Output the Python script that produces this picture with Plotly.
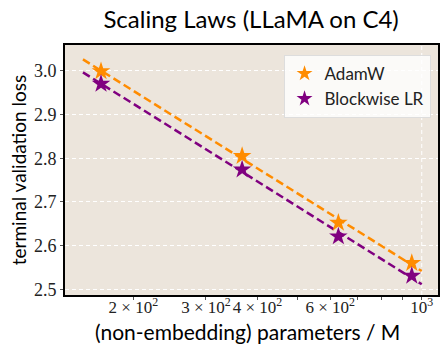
import numpy as np
import plotly.graph_objects as go

# Data
params_m = [167, 367, 628, 946]
adamw_loss = [2.999, 2.805, 2.652, 2.560]
blockwise_loss = [2.970, 2.774, 2.621, 2.531]
fit_x_range = [151, 1000]
series_names = ["AdamW", "Blockwise LR"]
series_colors = ["#FF8C00", "#800080"]

x_tickvals = [200, 300, 400, 500, 600, 700, 800, 900, 1000]
x_ticktext = ["2 × 10<sup>2</sup>", "3 × 10<sup>2</sup>", "4 × 10<sup>2</sup>", "",
              "6 × 10<sup>2</sup>", "", "", "", "10<sup>3</sup>"]
y_tickvals = [2.5, 2.6, 2.7, 2.8, 2.9, 3.0]
x_major_grid = [1000]
x_title = "(non-embedding) parameters / M"

fig = go.Figure()

fit_x = np.logspace(np.log10(fit_x_range[0]), np.log10(fit_x_range[1]), 50)
for name, color, loss in zip(series_names, series_colors, [adamw_loss, blockwise_loss]):
    coef = np.polyfit(np.log10(params_m), loss, 1)
    fig.add_trace(go.Scatter(
        x=fit_x, y=np.polyval(coef, np.log10(fit_x)), mode="lines",
        line=dict(color=color, width=2.5, dash="8px,4px"),
        showlegend=False, hoverinfo="skip"))
for name, color, loss in zip(series_names, series_colors, [adamw_loss, blockwise_loss]):
    fig.add_trace(go.Scatter(
        x=params_m, y=loss, mode="markers", name=name,
        marker=dict(symbol="star", size=14, color=color, line=dict(width=0))))

for xv in x_major_grid:
    fig.add_shape(type="line", xref="x", yref="paper", x0=xv, x1=xv, y0=0, y1=1,
                  line=dict(color="white", width=1, dash="4px,3px"), layer="below")

serif = "Liberation Serif"
sans = "Lato"

fig.add_annotation(text=x_title, xref="paper", yref="paper", x=0.49, y=-0.145,
                   xanchor="center", yanchor="middle", showarrow=False,
                   font=dict(family=sans, size=21, color="black"))

fig.update_layout(
    width=448, height=357,
    margin=dict(l=65, r=10, t=45, b=62),
    paper_bgcolor="white",
    plot_bgcolor="#ECE5DC",
    title=dict(text="Scaling Laws (LLaMA on C4)", x=0.5605, xanchor="center",
               y=0.945, yanchor="middle", font=dict(family=sans, size=24, color="black")),
    legend=dict(x=0.98, y=0.96, xanchor="right", yanchor="top",
                bgcolor="rgba(255,255,255,0.8)", bordercolor="#DDDDDD", borderwidth=1,
                font=dict(family=sans, size=17, color="#222222"),
                itemsizing="constant"),
    showlegend=True,
)

fig.update_xaxes(
    type="log", range=[np.log10(136.6), np.log10(1095)],
    tickvals=x_tickvals, ticktext=x_ticktext, tickangle=0, automargin=False,
    tickfont=dict(family=serif, size=17, color="#222222"),
    ticks="outside", ticklen=3, tickcolor="#555555", ticklabelstandoff=-7,
    showgrid=False, zeroline=False,
    showline=True, linecolor="black", linewidth=2, mirror=True,
)
fig.update_yaxes(
    range=[2.487, 3.059], automargin=False,
    tickvals=y_tickvals, tickformat=".1f",
    tickfont=dict(family=serif, size=18, color="#222222"),
    ticks="outside", ticklen=3, tickcolor="#555555",
    showgrid=True, gridcolor="white", griddash="4px,3px", gridwidth=1,
    zeroline=False,
    showline=True, linecolor="black", linewidth=2, mirror=True,
    title=dict(text="terminal validation loss", font=dict(family=sans, size=19, color="black"),
               standoff=2),
)

fig.write_html("out.html", config={"displayModeBar": False},
               post_script="document.body.style.margin='0';")
